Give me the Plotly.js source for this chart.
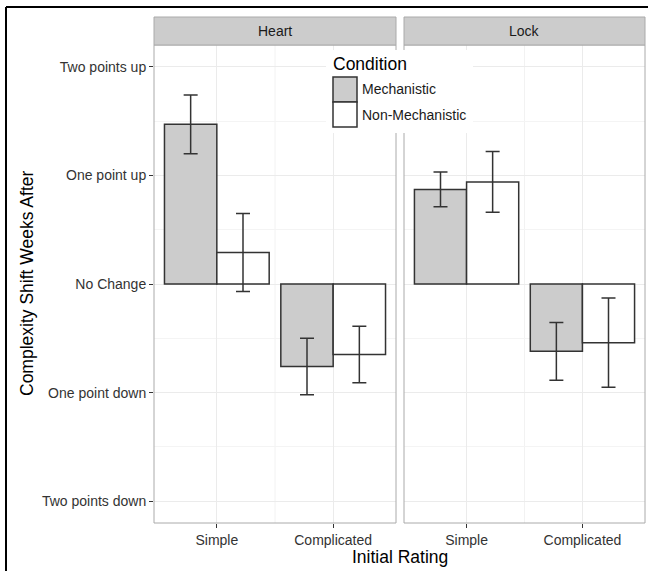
<!DOCTYPE html>
<html>
<head>
<meta charset="utf-8">
<script src="https://cdn.plot.ly/plotly-3.0.1.min.js"></script>
<style>html,body{margin:0;padding:0;background:#fff;}#chart{width:648px;height:571px;}</style>
</head>
<body>
<div id="chart"></div>
<script>
// ---- data ----
const categories = ['Simple', 'Complicated'];
const panels = ['Heart', 'Lock'];
const conditions = ['Mechanistic', 'Non-Mechanistic'];
const heartMech = [1.47, -0.76];
const heartMechErr = [0.27, 0.26];
const heartNonMech = [0.29, -0.65];
const heartNonMechErr = [0.36, 0.26];
const lockMech = [0.87, -0.62];
const lockMechErr = [0.16, 0.265];
const lockNonMech = [0.94, -0.54];
const lockNonMechErr = [0.28, 0.41];
const yTickVals = [-2, -1, 0, 1, 2];
const yTickText = ['Two points down', 'One point down', 'No Change', 'One point up', 'Two points up'];

// ---- style ----
const W = 648, H = 571;
const FONT = 'Liberation Sans, Arial, sans-serif';
const fillColors = ['#cccccc', '#ffffff'];
const edge = '#333333';
const px = v => v / W;
const py = v => (H - v) / H;

function barTrace(y, err, cond, ci, xa) {
  return {
    type: 'bar', x: categories, y: y, name: cond, xaxis: xa, yaxis: 'y',
    marker: {color: fillColors[ci], line: {color: edge, width: 1.5}},
    error_y: {type: 'data', array: err, visible: true, color: edge, thickness: 1.5, width: 7},
    showlegend: false, hoverinfo: 'skip'
  };
}

const data = [
  barTrace(heartMech, heartMechErr, conditions[0], 0, 'x'),
  barTrace(heartNonMech, heartNonMechErr, conditions[1], 1, 'x'),
  barTrace(lockMech, lockMechErr, conditions[0], 0, 'x2'),
  barTrace(lockNonMech, lockNonMechErr, conditions[1], 1, 'x2')
];

const yDom = [py(523), py(45)];
const xAxisBase = {
  type: 'category', range: [-0.54, 1.54], anchor: 'y',
  showgrid: true, gridcolor: '#ebebeb', gridwidth: 1,
  ticks: 'outside', ticklen: 4, tickcolor: '#333', tickwidth: 1,
  tickfont: {family: FONT, size: 14, color: '#333'},
  showline: false, zeroline: false, fixedrange: true
};

const shapes = [];
const annotations = [];
['x', 'x2'].forEach((xa, i) => {
  shapes.push({type: 'line', xref: xa, yref: 'y domain', x0: 0.5, x1: 0.5, y0: 0, y1: 1,
    line: {color: '#f2f2f2', width: 1}, layer: 'below'});
  shapes.push({type: 'rect', xref: xa + ' domain', yref: 'y domain', x0: 0, x1: 1, y0: 0, y1: 1,
    line: {color: '#aaaaaa', width: 1}, layer: 'above'});
  shapes.push({type: 'rect', xref: xa + ' domain', yref: 'paper', x0: 0, x1: 1, y0: py(45), y1: py(17),
    fillcolor: '#cccccc', line: {color: '#aaaaaa', width: 1}, layer: 'above'});
  annotations.push({xref: xa + ' domain', yref: 'paper', x: 0.5, y: py(31), text: panels[i],
    showarrow: false, font: {family: FONT, size: 14, color: '#1a1a1a'}, xanchor: 'center', yanchor: 'middle'});
});

// legend (drawn manually)
shapes.push({type: 'rect', xref: 'paper', yref: 'paper', x0: px(326), x1: px(473), y0: py(133), y1: py(50),
  fillcolor: '#ffffff', line: {width: 0}, layer: 'above'});
conditions.forEach((c, i) => {
  const top = 77 + i * 25;
  shapes.push({type: 'rect', xref: 'paper', yref: 'paper', x0: px(333), x1: px(357), y0: py(top + 25), y1: py(top),
    fillcolor: fillColors[i], line: {color: edge, width: 1.5}, layer: 'above'});
  annotations.push({xref: 'paper', yref: 'paper', x: px(360), y: py(top + 12.5), text: c, showarrow: false,
    xanchor: 'left', yanchor: 'middle', font: {family: FONT, size: 14, color: '#1a1a1a'}});
});
annotations.push({xref: 'paper', yref: 'paper', x: px(331), y: py(64), text: 'Condition', showarrow: false,
  xanchor: 'left', yanchor: 'middle', font: {family: FONT, size: 17.5, color: '#000'}});

// axis titles
annotations.push({xref: 'paper', yref: 'paper', x: px(400), y: py(557), text: 'Initial Rating', showarrow: false,
  xanchor: 'center', yanchor: 'middle', font: {family: FONT, size: 17.5, color: '#000'}});
annotations.push({xref: 'paper', yref: 'paper', x: px(27), y: py(284), text: 'Complexity Shift Weeks After', showarrow: false,
  textangle: -90, xanchor: 'center', yanchor: 'middle', font: {family: FONT, size: 17.5, color: '#000'}});

// outer frame (top and left edges visible)
shapes.push({type: 'line', xref: 'paper', yref: 'paper', x0: px(6), x1: 1, y0: py(7), y1: py(7),
  line: {color: '#000', width: 2}, layer: 'above'});
shapes.push({type: 'line', xref: 'paper', yref: 'paper', x0: px(6), x1: px(6), y0: 0, y1: py(7),
  line: {color: '#000', width: 2}, layer: 'above'});

const layout = {
  width: W, height: H,
  margin: {l: 0, r: 0, t: 0, b: 0},
  paper_bgcolor: '#fff', plot_bgcolor: '#fff',
  font: {family: FONT},
  barmode: 'group', bargap: 0.1, bargroupgap: 0,
  xaxis: Object.assign({}, xAxisBase, {domain: [px(154), px(396)]}),
  xaxis2: Object.assign({}, xAxisBase, {domain: [px(404), px(645)]}),
  yaxis: {
    domain: yDom, range: [-2.2, 2.2], anchor: 'x',
    tickvals: yTickVals, ticktext: yTickText,
    showgrid: true, gridcolor: '#ebebeb', gridwidth: 1,
    minor: {tickvals: [-1.5, -0.5, 0.5, 1.5], showgrid: true, gridcolor: '#f4f4f4', gridwidth: 1, ticks: ''},
    ticks: 'outside', ticklen: 4, tickcolor: '#333', tickwidth: 1,
    tickfont: {family: FONT, size: 14, color: '#333'},
    zeroline: false, showline: false, fixedrange: true
  },
  shapes: shapes,
  annotations: annotations
};

Plotly.newPlot('chart', data, layout, {displayModeBar: false, staticPlot: true});
</script>
</body>
</html>
